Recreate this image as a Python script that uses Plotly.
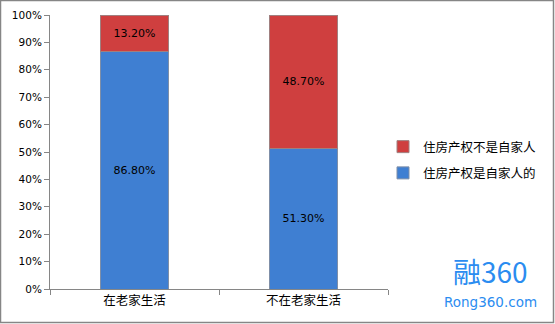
import plotly.graph_objects as go

categories = ["在老家生活", "不在老家生活"]
own_values = [86.8, 51.3]
not_own_values = [13.2, 48.7]
series_names = ["住房产权是自家人的", "住房产权不是自家人"]
tick_vals = [0, 10, 20, 30, 40, 50, 60, 70, 80, 90, 100]
tick_text = [f"{v}%" for v in tick_vals]

W, H = 555, 324
L, R, T, B = 50, 167, 15, 35
pw, ph = W - L - R, H - T - B

def px_x(x):
    return (x - L) / pw

def px_y(y):
    return (H - B - y) / ph

fig = go.Figure()
fig.add_trace(go.Bar(
    x=categories, y=own_values, name=series_names[0], legendgroup="own", legendrank=2,
    marker=dict(color="#3f7fd2", line=dict(color="#7f8fa8", width=1)),
    texttemplate="%{y:.2f}%", textposition="inside", insidetextanchor="middle",
    textfont=dict(color="black", size=11, family="DejaVu Sans"),
    width=0.4,
))
fig.add_trace(go.Bar(
    x=categories, y=not_own_values, name=series_names[1], legendgroup="notown", legendrank=1,
    marker=dict(color="#cf3f3f", line=dict(color="#a08080", width=1)),
    texttemplate="%{y:.2f}%", textposition="inside", insidetextanchor="middle",
    textfont=dict(color="black", size=11, family="DejaVu Sans"),
    width=0.4,
))

fig.update_layout(
    width=W, height=H,
    margin=dict(l=L, r=R, t=T, b=B, autoexpand=False),
    barmode="stack",
    plot_bgcolor="white", paper_bgcolor="white",
    showlegend=True,
    legend=dict(
        traceorder="grouped",
        x=px_x(383), y=px_y(160), xanchor="left", yanchor="middle",
        font=dict(size=12.5, family="Noto Sans CJK SC", color="black"),
        itemwidth=30, tracegroupgap=7,
        bgcolor="rgba(0,0,0,0)",
    ),
    uniformtext=dict(mode="show", minsize=8),
)
fig.update_yaxes(
    range=[0, 100], tickmode="array", tickvals=tick_vals, ticktext=tick_text,
    showgrid=False, zeroline=False,
    showline=True, linecolor="#868686", linewidth=1,
    ticks="outside", ticklen=5, tickcolor="#868686",
    tickfont=dict(size=10.5, family="DejaVu Sans", color="black"),
)
fig.update_xaxes(
    showgrid=False, showline=True, linecolor="#868686", linewidth=1,
    ticks="outside", tickson="boundaries", ticklen=5, tickcolor="#868686",
    tickfont=dict(size=12.5, family="Noto Sans CJK SC", color="black"),
)

# outer border of the chart
fig.add_shape(type="rect", xref="paper", yref="paper",
              x0=px_x(0.5), x1=px_x(553.5), y0=px_y(322.5), y1=px_y(0.5),
              line=dict(color="#868686", width=1.5), fillcolor="rgba(0,0,0,0)")

# watermark logo text
fig.add_annotation(text="融360", xref="paper", yref="paper",
                   x=px_x(491), y=px_y(271), xanchor="center", yanchor="middle",
                   showarrow=False, font=dict(size=28, family="Noto Sans CJK SC", color="#2b8cf0"))
fig.add_annotation(text="Rong360.com", xref="paper", yref="paper",
                   x=px_x(491), y=px_y(302), xanchor="center", yanchor="middle",
                   showarrow=False, font=dict(size=13.5, family="DejaVu Sans", color="#2b8cf0"))

fig.write_html("out.html")
